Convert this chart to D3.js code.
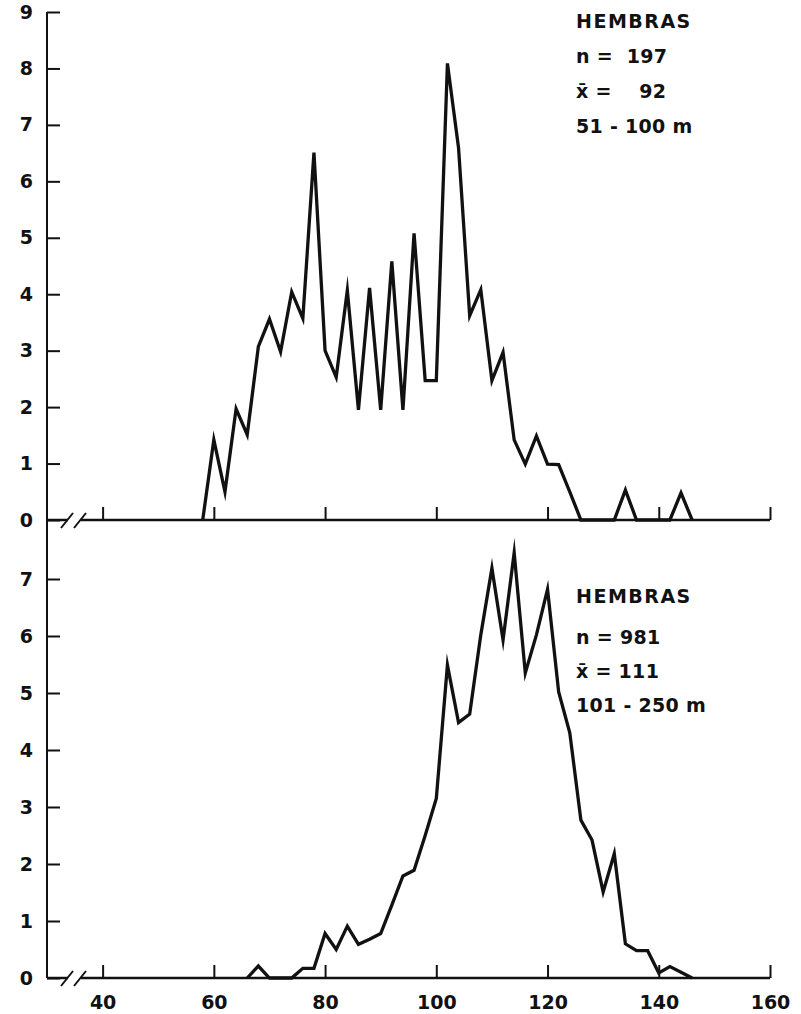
<!DOCTYPE html>
<html>
<head>
<meta charset="utf-8">
<script src="https://cdn.jsdelivr.net/npm/d3@7"></script>
<style>
body { margin: 0; background: #fff; }
text { font-family: "DejaVu Sans", sans-serif; font-weight: bold; fill: #111; white-space: pre; }
</style>
</head>
<body>
<svg id="chart" width="801" height="1014"></svg>
<script>

// length classes (mm) and frequency (%)
let topLengths = [58,60,62,64,66,68,70,72,74,76,78,80,82,84,86,88,90,92,94,96,98,100,
    102,104,106,108,110,112,114,116,118,120,122,124,126,128,130,132,134,136,138,140,142,144,146];
let topPercent = [0,1.42,0.5,1.97,1.51,3.07,3.56,2.98,4.04,3.57,6.51,3.0,2.53,4.07,1.95,4.11,1.95,4.58,1.95,5.08,2.47,2.47,
    8.09,6.59,3.62,4.08,2.47,2.97,1.42,0.99,1.49,0.99,0.98,0.5,0,0,0,0,0.53,0,0,0,0,0.48,0];

let bottomLengths = [66,68,70,72,74,76,78,80,82,84,86,88,90,92,94,96,98,100,
    102,104,106,108,110,112,114,116,118,120,122,124,126,128,130,132,134,136,138,140,142,144,146];
let bottomPercent = [0,0.21,0,0,0,0.17,0.17,0.78,0.5,0.91,0.59,0.68,0.78,1.28,1.79,1.89,2.5,3.15,
    5.49,4.48,4.63,6.02,7.19,5.93,7.46,5.35,6.02,6.82,5.02,4.30,2.77,2.42,1.51,2.18,0.6,0.48,0.48,0.09,0.2,0.1,0];

let xTicks = [40,60,80,100,120,140,160];
let topYTicks = [0,1,2,3,4,5,6,7,8,9];
let bottomYTicks = [0,1,2,3,4,5,6,7];

let topNotes = ["HEMBRAS", "n =  197", "x\u0304 =    92", "51 - 100 m"];
let bottomNotes = ["HEMBRAS", "n = 981", "x\u0304 = 111", "101 - 250 m"];

let svg = d3.select("#chart");

let x = d3.scaleLinear().domain([30, 160]).range([47, 770]);
let yTop = d3.scaleLinear().domain([0, 9]).range([520, 12]);
let yBot = d3.scaleLinear().domain([0, 7]).range([978, 579]);

// one y axis line running through both panels
svg.append("line")
    .attr("x1", x(30)).attr("x2", x(30))
    .attr("y1", yTop(9)).attr("y2", yBot(0))
    .attr("stroke", "#111").attr("stroke-width", 2);

function panel(y, yTicks, lengths, values, showXLabels, notes, noteY) {

    let yAxis = d3.axisLeft(y)
        .tickValues(yTicks)
        .tickSize(-13)
        .tickPadding(14)
        .tickFormat(d3.format("d"));
    let gy = svg.append("g")
        .attr("transform", "translate(" + x(30) + ",0)")
        .call(yAxis);
    gy.select(".domain").remove();
    gy.selectAll("line").attr("stroke", "#111").attr("stroke-width", 2);
    gy.selectAll("text").style("font-size", "19px");

    let xAxis = d3.axisBottom(x)
        .tickValues(xTicks)
        .tickSize(-13)
        .tickPadding(18)
        .tickFormat(showXLabels ? d3.format("d") : "");
    let gx = svg.append("g")
        .attr("transform", "translate(0," + y(0) + ")")
        .call(xAxis);
    gx.select(".domain").remove();
    gx.selectAll("line").attr("stroke", "#111").attr("stroke-width", 2);
    gx.selectAll("text").style("font-size", "19px");

    // baseline with a break near the origin
    let y0 = y(0);
    svg.append("line")
        .attr("x1", x(30)).attr("x2", 68)
        .attr("y1", y0).attr("y2", y0)
        .attr("stroke", "#111").attr("stroke-width", 2.5);
    svg.append("line")
        .attr("x1", 81).attr("x2", x(160))
        .attr("y1", y0).attr("y2", y0)
        .attr("stroke", "#111").attr("stroke-width", 2.5);
    [67, 80].forEach(function(cx){
        svg.append("line")
            .attr("x1", cx - 6).attr("y1", y0 + 8)
            .attr("x2", cx + 6).attr("y2", y0 - 7)
            .attr("stroke", "#111").attr("stroke-width", 2);
    });

    let line = d3.line()
        .x(function(d){ return x(d[0]); })
        .y(function(d){ return y(d[1]); });
    svg.append("path")
        .datum(d3.zip(lengths, values))
        .attr("d", line)
        .attr("fill", "none")
        .attr("stroke", "#111")
        .attr("stroke-width", 3.3)
        .attr("stroke-linejoin", "miter")
        .attr("stroke-miterlimit", 10);

    svg.selectAll(null)
        .data(notes)
        .enter()
        .append("text")
        .attr("x", 576)
        .attr("y", function(d, i){ return noteY[i]; })
        .style("font-size", function(d, i){ return i == 0 ? "19px" : "19px"; })
        .style("letter-spacing", function(d, i){ return i == 0 ? "1.5px" : "0.3px"; })
        .text(function(d){ return d; });
}

panel(yTop, topYTicks, topLengths, topPercent, false, topNotes, [28, 63, 98, 133]);
panel(yBot, bottomYTicks, bottomLengths, bottomPercent, true, bottomNotes, [603, 644, 678, 712]);

</script>
</body>
</html>
